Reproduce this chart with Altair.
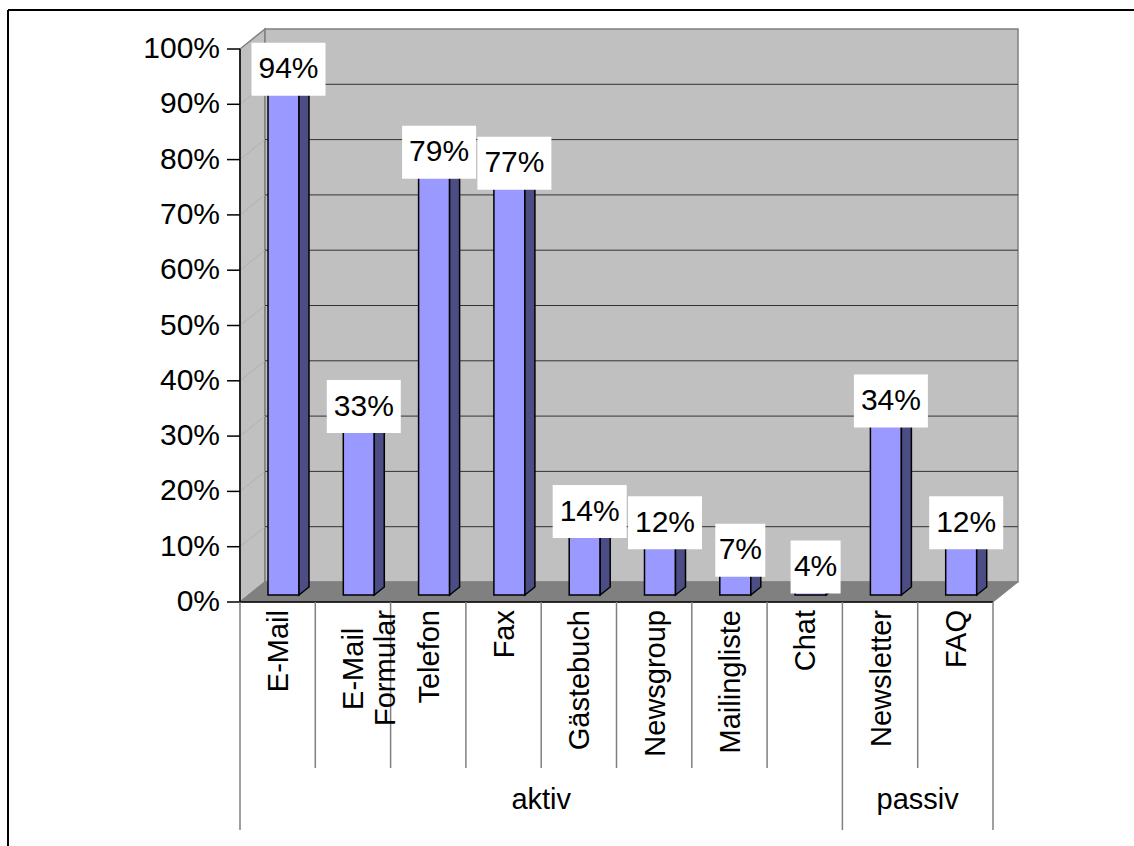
import altair as alt
import pandas as pd

# ---------------- data ----------------
categories = ["E-Mail", "E-Mail\nFormular", "Telefon", "Fax", "Gästebuch",
              "Newsgroup", "Mailingliste", "Chat", "Newsletter", "FAQ"]
values = [94, 33, 79, 77, 14, 12, 7, 4, 34, 12]
group_names = ["aktiv", "passiv"]
group_sizes = [8, 2]
y_ticks = [0, 10, 20, 30, 40, 50, 60, 70, 80, 90, 100]

# ---------------- geometry (pixel constants -> data units) ----------------
W, H = 1127, 837            # view size
PAD_L, PAD_T = 7, 9
PX0, PY0 = 240, 602         # absolute pixel of data origin
UX, UY = 75.3, 5.53         # pixels per category / per percent
XMIN = (PAD_L - PX0) / UX
XMAX = XMIN + W / UX
YMAX = (PY0 - PAD_T) / UY
YMIN = YMAX - H / UY

DX, DY = 25 / UX, 20 / UY          # wall depth
BOFF, BW = 28 / UX, 31 / UX        # bar front offset & width
BDY = 7 / UY                       # bar front raised above floor front
SDX, SDY = 10 / UX, 8 / UY         # bar depth
LAB_UP = 6 / UY
FS = 30
CFS = 29
LINE_H = 32
FONT = "Liberation Sans"

n = len(categories)
xs = alt.Scale(domain=[XMIN, XMAX], nice=False, zero=False)
ys = alt.Scale(domain=[YMIN, YMAX], nice=False, zero=False)


def X(f):
    return alt.X(f, type="quantitative", scale=xs, axis=None)


def Y(f):
    return alt.Y(f, type="quantitative", scale=ys, axis=None)


_narrow = {"i": .222, "l": .222, "j": .222, "f": .278, "t": .278, "r": .333,
           "I": .278, "-": .333, " ": .278}
_wide = {"m": .833, "w": .722, "M": .833, "W": .944}


def text_w(s, fs):
    w = 0.0
    for ch in s:
        if ch in _narrow:
            w += _narrow[ch]
        elif ch in _wide:
            w += _wide[ch]
        elif ch.isupper():
            w += .667
        else:
            w += .556
    return w * fs


# walls
left_wall = pd.DataFrame({"x": [0, DX], "y": [0, DY], "y2": [100, 100 + DY]})
back_wall = pd.DataFrame({"x": [DX], "x2": [n + DX], "y": [DY], "y2": [100 + DY]})
floor = pd.DataFrame({"y": [0, DY], "x": [0, DX], "x2": [n, n + DX]})
grid = pd.DataFrame({"v": [t for t in y_ticks if 0 < t < 100]})
grid["y"] = grid["v"] + DY
grid["x"] = DX
grid["x2"] = n + DX
grid["lx"] = 0.0
grid["ly"] = grid["v"]

# bars
front = pd.DataFrame({"i": range(n), "v": values})
front["x"] = front["i"] + BOFF
front["x2"] = front["x"] + BW
front["y"] = BDY
front["y2"] = front["v"] + BDY
front["label"] = [f"{v}%" for v in values]
front["cx"] = front["x"] + BW / 2 + SDX / 2
front["cy"] = front["y2"] + LAB_UP
front["bw"] = [74 if len(s) == 3 else 50 for s in front["label"]]
front["bx"] = front["cx"] - front["bw"] / 2 / UX
front["bx2"] = front["cx"] + front["bw"] / 2 / UX
front["by"] = front["cy"] - 26.5 / UY
front["by2"] = front["cy"] + 26.5 / UY

side_rows, top_rows = [], []
for i, v in enumerate(values):
    x0 = i + BOFF
    x1 = x0 + BW
    for t in (0, 1):
        side_rows.append({"i": i, "x": x1 + t * SDX, "y": BDY + t * SDY, "y2": v + BDY + t * SDY})
        top_rows.append({"i": i, "y": v + BDY + t * SDY, "x": x0 + t * SDX, "x2": x1 + t * SDX})
side = pd.DataFrame(side_rows)
top = pd.DataFrame(top_rows)

# axis
ticks = pd.DataFrame({"v": y_ticks, "label": [f"{t}%" for t in y_ticks]})
ticks["x"] = -13 / UX
ticks["x2"] = 0.0
ticks["lx"] = -20 / UX

# table below
bounds = pd.DataFrame({"k": range(n + 1)})
group_edges = [0]
for s in group_sizes:
    group_edges.append(group_edges[-1] + s)
bounds["y"] = 0.0
bounds["y2"] = [(-(830 - PY0) / UY) if k in group_edges else (-(768 - PY0) / UY) for k in bounds["k"]]

# category label lines: longest line ends near the axis, other lines centred on it
rows_long, rows_short = [], []
for i, cat in enumerate(categories):
    lines = cat.split("\n")
    widths = [text_w(s, CFS) for s in lines]
    lw = max(widths)
    for j, s in enumerate(lines):
        xpos = i + 0.5 + j * LINE_H / UX
        if widths[j] == lw:
            rows_long.append({"t": s, "x": xpos, "y": -8 / UY})
        else:
            rows_short.append({"t": s, "x": xpos, "y": -(8 + lw / 2) / UY})
cat_long = pd.DataFrame(rows_long)
cat_short = pd.DataFrame(rows_short)

groups = pd.DataFrame({"g": group_names,
                       "x": [(group_edges[j] + group_edges[j + 1]) / 2 for j in range(len(group_names))]})
groups["y"] = -(800 - PY0) / UY

# ---------------- layers ----------------
layers = []
layers.append(alt.Chart(left_wall).mark_area(orient="vertical", color="#C0C0C0", stroke="#808080", strokeWidth=1.5)
              .encode(x=X("x"), y=Y("y"), y2="y2"))
layers.append(alt.Chart(back_wall).mark_rect(color="#C0C0C0", stroke="#808080", strokeWidth=1.5)
              .encode(x=X("x"), x2="x2", y=Y("y"), y2="y2"))
layers.append(alt.Chart(grid).mark_rule(color="#B0B0B0", strokeWidth=1)
              .encode(x=X("lx"), y=Y("ly"), x2="x", y2="y"))
layers.append(alt.Chart(grid).mark_rule(color="#333333", strokeWidth=1)
              .encode(x=X("x"), x2="x2", y=Y("y")))
layers.append(alt.Chart(floor).mark_area(orient="horizontal", color="#808080", stroke="#808080", strokeWidth=1)
              .encode(y=Y("y"), x=X("x"), x2="x2"))
layers.append(alt.Chart(front).mark_rect(color="#9999FF", stroke="black", strokeWidth=1.5)
              .encode(x=X("x"), x2="x2", y=Y("y"), y2="y2"))
layers.append(alt.Chart(side).mark_area(orient="vertical", color="#4D4D85", stroke="black", strokeWidth=1.5)
              .encode(x=X("x"), y=Y("y"), y2="y2", detail="i:N"))
layers.append(alt.Chart(top).mark_area(orient="horizontal", color="#7373BF", stroke="black", strokeWidth=1.5)
              .encode(y=Y("y"), x=X("x"), x2="x2", detail="i:N"))
layers.append(alt.Chart(front).mark_rect(color="white")
              .encode(x=X("bx"), x2="bx2", y=Y("by"), y2="by2"))
layers.append(alt.Chart(front).mark_text(font=FONT, fontSize=FS, color="black", align="center", baseline="middle")
              .encode(x=X("cx"), y=Y("cy"), text="label:N"))
# y axis
layers.append(alt.Chart(ticks).mark_rule(color="black", strokeWidth=1.5)
              .encode(x=X("x"), x2="x2", y=Y("v")))
layers.append(alt.Chart(pd.DataFrame({"x": [0.0], "y": [0.0], "y2": [100.0]})).mark_rule(color="black", strokeWidth=1.5)
              .encode(x=X("x"), y=Y("y"), y2="y2"))
layers.append(alt.Chart(pd.DataFrame({"x": [0.0], "x2": [float(n)], "y": [0.0]})).mark_rule(color="black", strokeWidth=1.5)
              .encode(x=X("x"), x2="x2", y=Y("y")))
layers.append(alt.Chart(ticks).mark_text(font=FONT, fontSize=FS, color="black", align="right", baseline="middle")
              .encode(x=X("lx"), y=Y("v"), text="label:N"))
# table lines & labels
layers.append(alt.Chart(bounds).mark_rule(color="#808080", strokeWidth=1.5)
              .encode(x=X("k"), y=Y("y"), y2="y2"))
layers.append(alt.Chart(cat_long).mark_text(font=FONT, fontSize=CFS, color="black", angle=270, align="right",
                                            baseline="top", dy=-0.43 * CFS)
              .encode(x=X("x"), y=Y("y"), text="t:N"))
layers.append(alt.Chart(cat_short).mark_text(font=FONT, fontSize=CFS, color="black", angle=270, align="center",
                                             baseline="top", dy=-0.43 * CFS)
              .encode(x=X("x"), y=Y("y"), text="t:N"))
layers.append(alt.Chart(groups).mark_text(font=FONT, fontSize=CFS, color="black", align="center", baseline="middle")
              .encode(x=X("x"), y=Y("y"), text="g:N"))
# outer frame
layers.append(alt.Chart(pd.DataFrame({"a": [0]})).mark_rule(color="black", strokeWidth=2)
              .encode(x=alt.value(1), y=alt.value(1), y2=alt.value(H)))
layers.append(alt.Chart(pd.DataFrame({"a": [0]})).mark_rule(color="black", strokeWidth=2)
              .encode(x=alt.value(1), x2=alt.value(W), y=alt.value(1)))

chart = alt.layer(*layers).properties(
    width=W, height=H,
    padding={"left": PAD_L, "top": PAD_T, "right": 0, "bottom": 0},
    autosize=alt.AutoSizeParams(type="none"),
    background="white",
).configure_view(stroke=None)

chart.save("out.html", embed_options={"renderer": "svg", "actions": False})
